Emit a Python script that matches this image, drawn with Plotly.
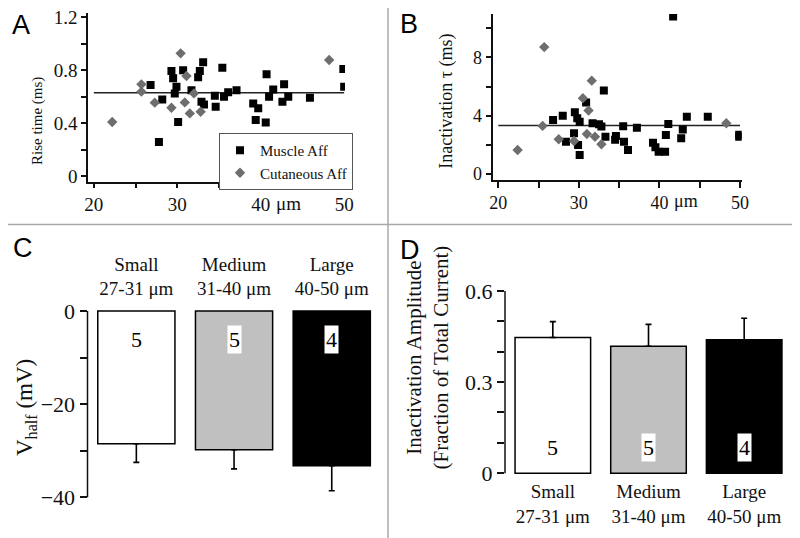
import plotly.graph_objects as go

# ---------------- data ----------------
# Panel A: rise time vs soma diameter
muscle_A_diam = [26.8, 27.8, 28.2, 29.3, 29.5, 29.7, 29.9, 30.1, 30.7, 31.7, 32.5, 32.7,
                 33.1, 32.9, 33.2, 34.5, 34.6, 35.4, 35.6, 36.1, 37.1, 39.1, 39.7, 39.4,
                 40.6, 40.7, 41.0, 41.5, 42.6, 42.8, 43.3, 45.9, 49.9, 50.0]
muscle_A_rise = [0.69, 0.26, 0.58, 0.795, 0.74, 0.626, 0.676, 0.41, 0.80, 0.65, 0.747, 0.795,
                 0.86, 0.563, 0.543, 0.608, 0.525, 0.82, 0.60, 0.634, 0.65, 0.55, 0.513, 0.425,
                 0.407, 0.77, 0.60, 0.656, 0.563, 0.694, 0.60, 0.593, 0.81, 0.676]
cut_A_diam = [22.2, 25.7, 25.7, 27.3, 29.3, 30.4, 31.1, 30.9, 31.5, 32.0, 32.8, 48.2]
cut_A_rise = [0.41, 0.694, 0.639, 0.556, 0.518, 0.928, 0.757, 0.558, 0.475, 0.626, 0.488, 0.878]
mean_rise = 0.63

# Panel B: inactivation tau vs soma diameter
muscle_B_diam = [26.8, 28.0, 28.4, 29.4, 29.5, 29.8, 29.9, 30.1, 30.1, 30.9, 31.7, 32.5,
                 32.8, 33.1, 33.3, 34.5, 34.6, 35.5, 35.6, 36.1, 37.2, 39.2, 39.5, 39.9,
                 40.7, 40.8, 41.1, 41.7, 42.7, 42.9, 43.4, 46.0, 49.9, 49.9]
muscle_B_tau = [3.70, 4.0, 2.22, 2.79, 4.23, 3.82, 1.99, 3.59, 1.30, 4.9, 3.48, 3.41,
                3.25, 5.72, 2.56, 2.35, 2.6, 3.27, 2.22, 1.65, 3.18, 2.15, 1.83, 1.53,
                1.53, 2.68, 3.43, 10.8, 2.45, 3.06, 3.93, 3.93, 2.7, 2.55]
cut_B_diam = [22.4, 25.7, 25.5, 27.5, 29.4, 30.5, 31.2, 31.0, 31.6, 32.0, 32.8, 48.3]
cut_B_tau = [1.65, 8.7, 3.3, 2.38, 2.26, 5.2, 4.35, 2.74, 6.4, 2.56, 2.04, 3.48]
mean_tau = 3.33

# Panels C/D: size classes
size_classes = ["Small", "Medium", "Large"]
size_ranges = ["27-31 μm", "31-40 μm", "40-50 μm"]
n_cells = [5, 5, 4]
vhalf_mean = [-28.5, -29.8, -33.2]
vhalf_sem = [4.0, 4.1, 5.4]
inact_amp_mean = [0.447, 0.418, 0.439]
inact_amp_sem = [0.052, 0.072, 0.071]

# ticks (labelled majors + unlabelled minors)
diam_ticks = [20, 30, 40, 50]
diam_minor = [25, 35, 45]
rise_ticks = [0, 0.4, 0.8, 1.2]
rise_minor = [0.2, 0.6, 1.0]
tau_ticks = [0, 4, 8]
tau_minor = [2, 6, 10]
vhalf_ticks = [-40, -20, 0]
vhalf_minor = [-30, -10]
amp_ticks = [0, 0.3, 0.6]
amp_minor = [0.1, 0.2, 0.4, 0.5]

# ---------------- layout helpers ----------------
W, H = 800, 538
OFF = 8  # page body margin in the browser
def X(px):
    return (px - OFF) / W
def Y(py):
    return 1 - (py - OFF) / H

SERIF = "'Liberation Serif', 'Times New Roman', Times, serif"
SANS = "'Liberation Sans', Arial, Helvetica, sans-serif"
INK = "#111111"
GRAY_MARK = "#6e6e6e"
bar_colors = ["#ffffff", "#c0c0c0", "#000000"]

fig = go.Figure()

# ---- Panel A ----
fig.add_trace(go.Scatter(x=[min(diam_ticks), max(diam_ticks)], y=[mean_rise, mean_rise],
                         mode="lines", line=dict(color="#222222", width=1.5),
                         showlegend=False, hoverinfo="skip", xaxis="x", yaxis="y"))
fig.add_trace(go.Scatter(x=muscle_A_diam, y=muscle_A_rise, mode="markers", name="Muscle Aff",
                         marker=dict(symbol="square", size=8, color="#000000", line=dict(width=0)),
                         xaxis="x", yaxis="y"))
fig.add_trace(go.Scatter(x=cut_A_diam, y=cut_A_rise, mode="markers", name="Cutaneous Aff",
                         marker=dict(symbol="diamond", size=8, color=GRAY_MARK, line=dict(width=0)),
                         xaxis="x", yaxis="y"))

# ---- Panel B ----
fig.add_trace(go.Scatter(x=[min(diam_ticks), max(diam_ticks)], y=[mean_tau, mean_tau],
                         mode="lines", line=dict(color="#222222", width=1.5),
                         showlegend=False, hoverinfo="skip", xaxis="x2", yaxis="y2"))
fig.add_trace(go.Scatter(x=muscle_B_diam, y=muscle_B_tau, mode="markers", name="Muscle Aff",
                         marker=dict(symbol="square", size=8, color="#000000", line=dict(width=0)),
                         showlegend=False, xaxis="x2", yaxis="y2"))
fig.add_trace(go.Scatter(x=cut_B_diam, y=cut_B_tau, mode="markers", name="Cutaneous Aff",
                         marker=dict(symbol="diamond", size=8, color=GRAY_MARK, line=dict(width=0)),
                         showlegend=False, xaxis="x2", yaxis="y2"))

# ---- Panel C ----
fig.add_trace(go.Bar(x=size_classes, y=vhalf_mean,
                     marker=dict(color=bar_colors, line=dict(color="#000000", width=1.5)),
                     error_y=dict(type="data", symmetric=False, array=[0] * len(vhalf_sem),
                                  arrayminus=vhalf_sem, color="#000000", thickness=1.6, width=3),
                     showlegend=False, xaxis="x3", yaxis="y3"))

# ---- Panel D ----
fig.add_trace(go.Bar(x=size_classes, y=inact_amp_mean,
                     marker=dict(color=bar_colors, line=dict(color="#000000", width=1.5)),
                     error_y=dict(type="data", symmetric=False, array=inact_amp_sem,
                                  arrayminus=[0] * len(inact_amp_sem), color="#000000",
                                  thickness=1.6, width=3),
                     showlegend=False, xaxis="x4", yaxis="y4"))

def value_axis(ticks, minor, ticklen, size, line=True):
    return dict(showgrid=False, zeroline=False, showline=line, linecolor=INK, linewidth=1.5,
                ticks="outside", tickcolor=INK, tickwidth=1.5, ticklen=ticklen,
                tickmode="array", tickvals=ticks, ticklabeloverflow="allow",
                minor=dict(tickmode="array", tickvals=minor, ticks="outside", ticklen=ticklen,
                           tickwidth=1.5, tickcolor=INK, showgrid=False),
                tickfont=dict(family=SERIF, size=size, color=INK), fixedrange=True)

cat_text = [f"{c}<br>{r}" for c, r in zip(size_classes, size_ranges)]

fig.update_layout(
    width=W, height=H, template="none",
    paper_bgcolor="white", plot_bgcolor="rgba(0,0,0,0)",
    margin=dict(l=0, r=0, t=0, b=0),
    font=dict(family=SERIF, color=INK),
    bargap=0.21,
    showlegend=True,
    legend=dict(x=X(219), y=Y(133), xanchor="left", yanchor="top",
                bgcolor="white", bordercolor="#555555", borderwidth=1,
                font=dict(family=SERIF, size=15, color=INK), tracegroupgap=0),
    # A
    xaxis=dict(domain=[X(88), X(345)], range=[19.3, 50.1], anchor="y",
               **value_axis(diam_ticks, diam_minor, 5, 19)),
    yaxis=dict(domain=[Y(181.7), Y(13.3)], range=[-0.04, 1.23], anchor="x",
               **value_axis(rise_ticks, rise_minor, 5, 19)),
    # B
    xaxis2=dict(domain=[X(493.3), X(741.7)], range=[19.38, 50.21], anchor="y2",
                **value_axis(diam_ticks, diam_minor, 6, 18)),
    yaxis2=dict(domain=[Y(180), Y(14)], range=[-0.41, 10.97], anchor="x2",
                **value_axis(tau_ticks, tau_minor, 6, 18)),
    # C
    xaxis3=dict(domain=[X(87.5), X(380.6)], anchor="y3", side="top", type="category",
                showline=False, ticks="", showgrid=False, zeroline=False, fixedrange=True,
                tickvals=size_classes, ticktext=cat_text, ticklabelstandoff=8,
                ticklabeloverflow="allow",
                tickfont=dict(family=SERIF, size=19, color=INK)),
    yaxis3=dict(domain=[Y(500.1), Y(308.2)], range=[-40.6, 0.6], anchor="x3",
                **value_axis(vhalf_ticks, vhalf_minor, 7, 22, line=False)),
    # D
    xaxis4=dict(domain=[X(505), X(792)], anchor="y4", type="category",
                showline=False, ticks="", showgrid=False, zeroline=False, fixedrange=True,
                tickvals=size_classes, ticktext=cat_text, ticklabelstandoff=2,
                ticklabeloverflow="allow",
                tickfont=dict(family=SERIF, size=19, color=INK)),
    yaxis4=dict(domain=[Y(476.3), Y(287.9)], range=[-0.01, 0.61], anchor="x4",
                **value_axis(amp_ticks, amp_minor, 7, 22, line=False)),
)

shapes = [
    # panel dividers
    dict(type="line", xref="paper", yref="paper", x0=X(0), x1=X(800), y0=Y(224.5), y1=Y(224.5),
         line=dict(color="#a8a8a8", width=1.5)),
    dict(type="line", xref="paper", yref="paper", x0=X(388), x1=X(388), y0=Y(538), y1=Y(0),
         line=dict(color="#a8a8a8", width=1.5)),
    # bar-panel value axes (span only the labelled range)
    dict(type="line", xref="x3 domain", yref="y3", x0=0, x1=0,
         y0=vhalf_ticks[0], y1=vhalf_ticks[-1], line=dict(color=INK, width=1.5)),
    dict(type="line", xref="x4 domain", yref="y4", x0=0, x1=0,
         y0=amp_ticks[0], y1=amp_ticks[-1], line=dict(color=INK, width=1.5)),
]

annotations = []
# panel letters
for letter, px, py in [("A", 10, 25), ("B", 398, 24), ("C", 11, 248), ("D", 398, 250)]:
    annotations.append(dict(text=letter, xref="paper", yref="paper", x=X(px), y=Y(py),
                            xanchor="left", yanchor="middle", showarrow=False,
                            font=dict(family=SANS, size=27, color="#000000")))
# axis titles
annotations += [
    dict(text="Rise time (ms)", xref="paper", yref="paper", x=X(37.5), y=Y(121.5),
         textangle=-90, showarrow=False, xanchor="center", yanchor="middle",
         font=dict(family=SERIF, size=15, color=INK)),
    dict(text="Inactivation τ (ms)", xref="paper", yref="paper", x=X(445.8), y=Y(101),
         textangle=-90, showarrow=False, xanchor="center", yanchor="middle",
         font=dict(family=SERIF, size=18, color=INK)),
    dict(text="V<sub>half</sub> (mV)", xref="paper", yref="paper", x=X(26), y=Y(408),
         textangle=-90, showarrow=False, xanchor="center", yanchor="middle",
         font=dict(family=SERIF, size=23, color=INK)),
    dict(text="Inactivation Amplitude<br>(Fraction of Total Current)", xref="paper", yref="paper",
         x=X(426.5), y=Y(357), textangle=-90, showarrow=False, xanchor="center", yanchor="middle",
         font=dict(family=SERIF, size=21, color=INK)),
]
# "μm" unit beside the 40 tick
for xr, yr, size in [("x", "y domain", 19), ("x2", "y2 domain", 18)]:
    annotations.append(dict(text="μm", xref=xr, yref=yr, x=40, y=0, xanchor="left",
                            yanchor="top", xshift=13, yshift=-9, showarrow=False,
                            font=dict(family=SERIF, size=size, color=INK)))
# n labels
for cls, n in zip(size_classes, n_cells):
    annotations.append(dict(text=str(n), xref="x3", yref="y3", x=cls, y=0, yanchor="middle",
                            yshift=-29, showarrow=False, bgcolor="white", borderpad=1,
                            font=dict(family=SERIF, size=22, color="#000000")))
    annotations.append(dict(text=str(n), xref="x4", yref="y4", x=cls, y=0, yanchor="middle",
                            yshift=26, showarrow=False, bgcolor="white", borderpad=1,
                            font=dict(family=SERIF, size=22, color="#000000")))

fig.update_layout(shapes=shapes, annotations=annotations)

fig.write_html("out.html")
